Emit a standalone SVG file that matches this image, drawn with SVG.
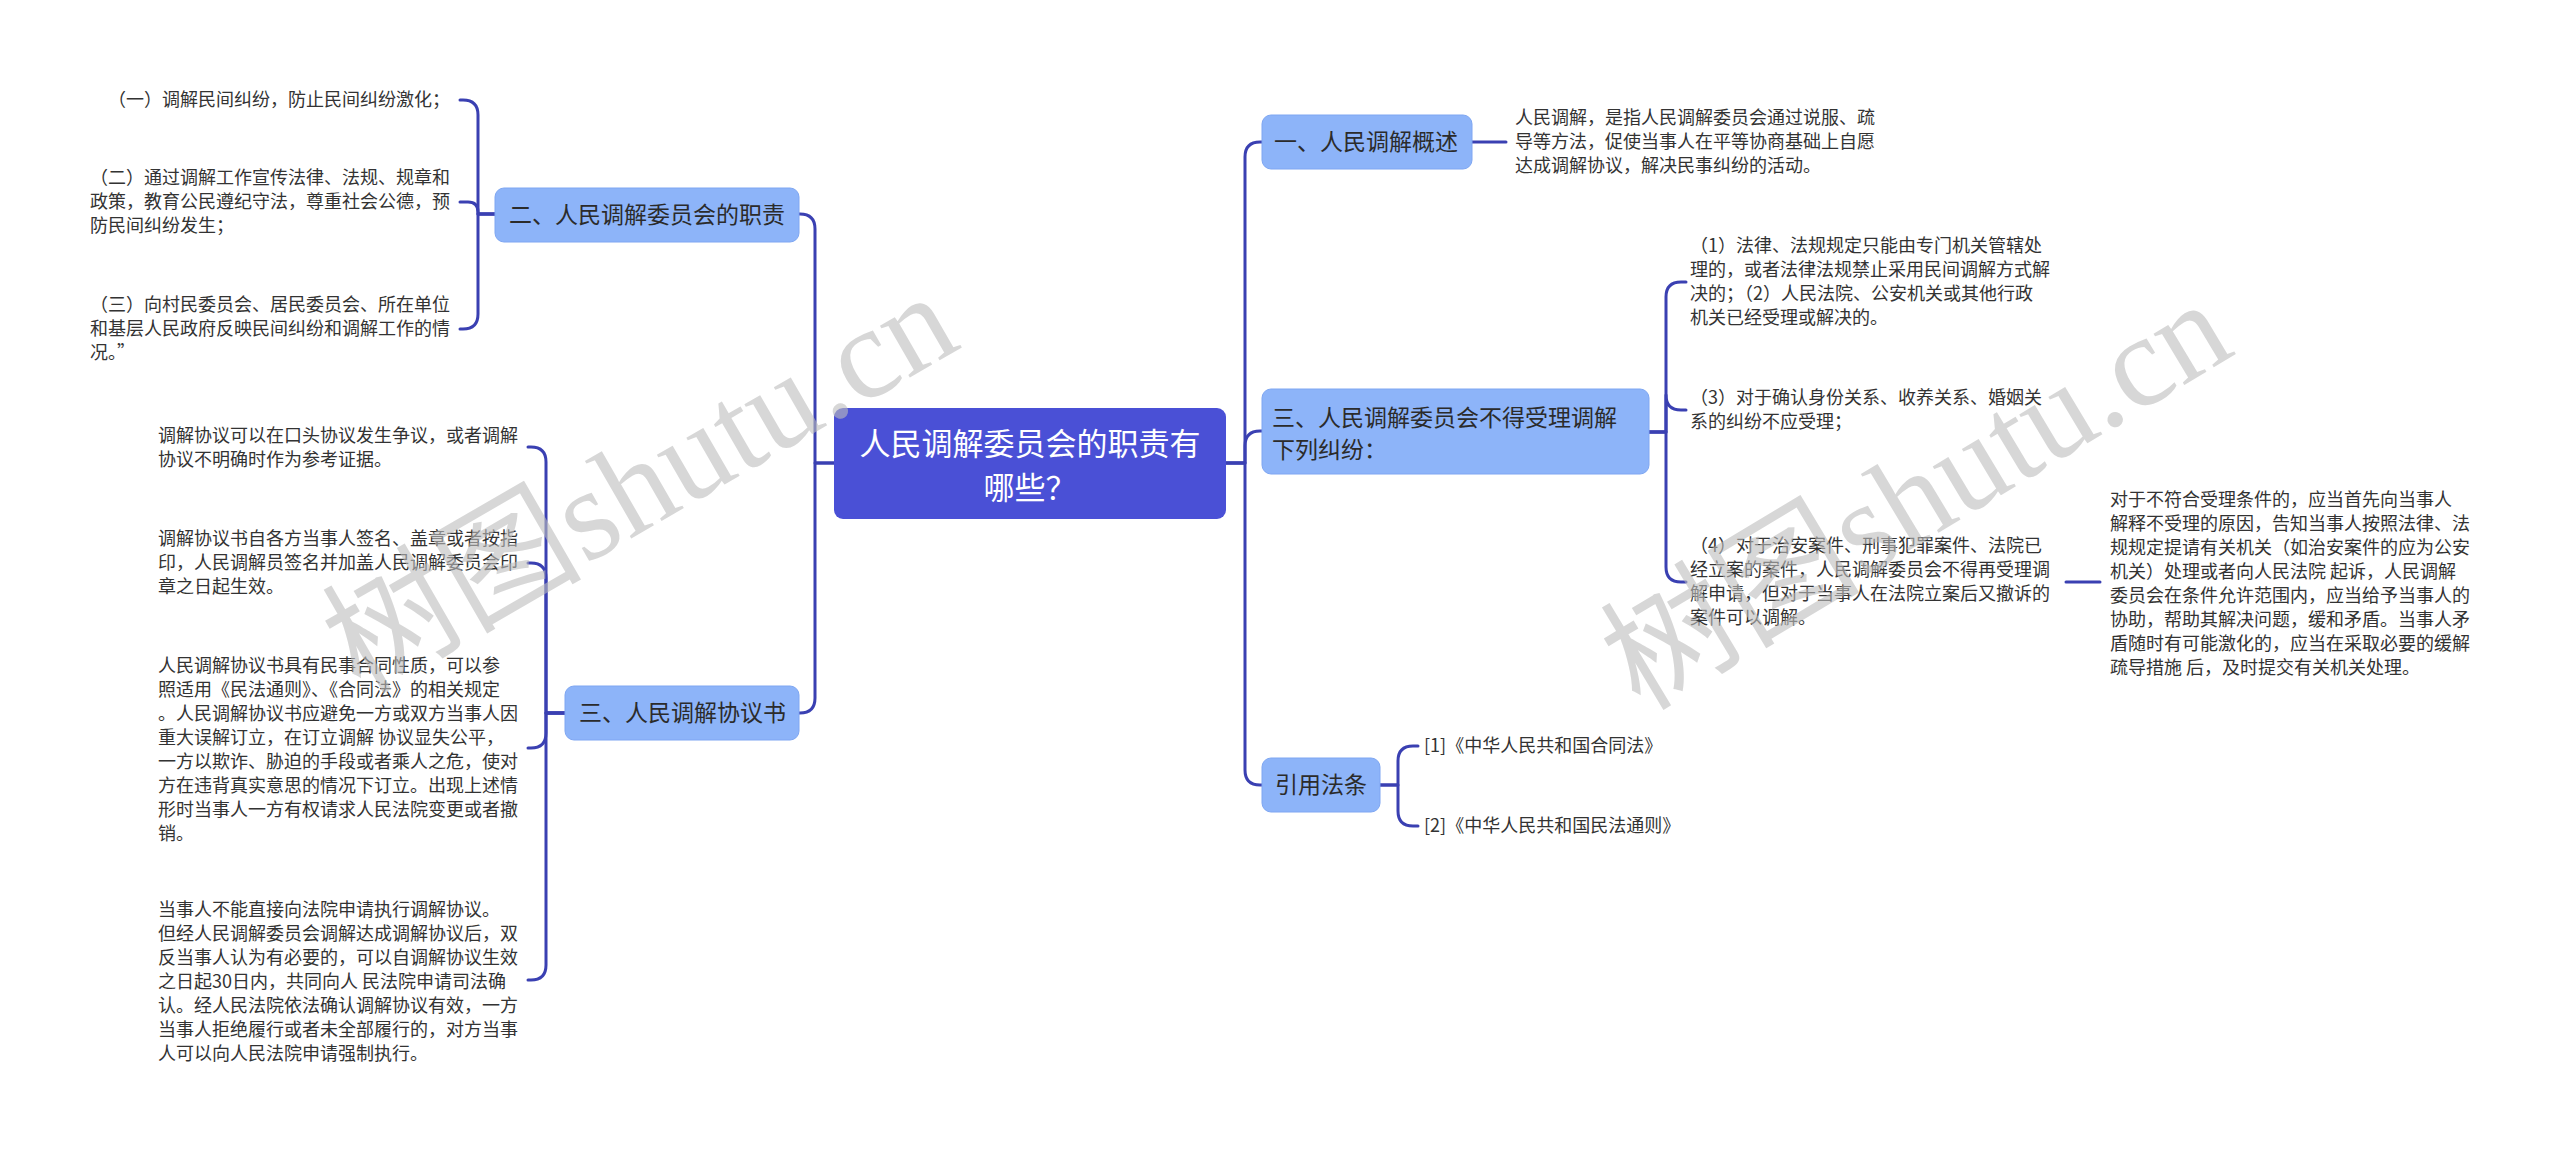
<svg xmlns="http://www.w3.org/2000/svg" width="2560" height="1150" viewBox="0 0 2560 1150">
<style>
.root{fill:#4a50d6;}
.rootT{font-family:"Noto Sans CJK SC","Liberation Sans",sans-serif;font-size:31px;fill:#ffffff;text-anchor:middle;}
.br{fill:#8db4f9;stroke:#7ea6f2;stroke-width:1;}
.brT{font-family:"Noto Sans CJK SC","Liberation Sans",sans-serif;font-size:23px;fill:#2b2b2b;}
.lf{font-family:"Noto Sans CJK SC","Liberation Sans",sans-serif;font-size:18px;fill:#333333;}
.ln{fill:none;stroke:#3a40b2;stroke-width:3;stroke-linecap:round;stroke-linejoin:round;}
.wm{font-family:"Liberation Serif","Noto Sans CJK SC",serif;font-size:130px;fill:#bdbdbd;opacity:0.6;}
</style>

<g id="connectors">
  <path class="ln" d="M834 463 H815 V229 Q815 214 800 214 H798"/>
  <path class="ln" d="M834 463 H815 V698 Q815 713 800 713 H799"/>
  <path class="ln" d="M1226 463 H1245 V157 Q1245 142 1260 142 H1262"/>
  <path class="ln" d="M1226 463 H1245 V446 Q1245 431 1260 431 H1262"/>
  <path class="ln" d="M1226 463 H1245 V770 Q1245 785 1260 785 H1262"/>
  <path class="ln" d="M1472 142 H1506"/>
  <path class="ln" d="M1649 432 H1666 V297 Q1666 282 1681 282 H1686"/>
  <path class="ln" d="M1649 432 H1666 V395 Q1666 410 1681 410 H1686"/>
  <path class="ln" d="M1649 432 H1666 V567 Q1666 582 1681 582 H1686"/>
  <path class="ln" d="M2066 582 H2100"/>
  <path class="ln" d="M1380 785 H1398 V761 Q1398 746 1413 746 H1418"/>
  <path class="ln" d="M1380 785 H1398 V811 Q1398 826 1413 826 H1418"/>
  <path class="ln" d="M495 214 H478 V115 Q478 100 463 100 H460"/>
  <path class="ln" d="M495 214 H478 V212 Q478 202 468 202 H460"/>
  <path class="ln" d="M495 214 H478 V314 Q478 329 463 329 H460"/>
  <path class="ln" d="M565 713 H546 V462 Q546 447 531 447 H528"/>
  <path class="ln" d="M565 713 H546 V578 Q546 563 531 563 H528"/>
  <path class="ln" d="M565 713 H546 V733 Q546 748 531 748 H528"/>
  <path class="ln" d="M565 713 H546 V965 Q546 980 531 980 H528"/>
</g>

<g id="root">
  <rect class="root" x="834" y="408" width="392" height="111" rx="9"/>
  <text class="rootT" x="1030" y="455">人民调解委员会的职责有</text>
  <text class="rootT" x="1030" y="499">哪些？</text>
</g>

<g id="b-left-2">
  <rect class="br" x="495" y="188" width="304" height="54" rx="9"/>
  <text class="brT" x="509" y="223">二、人民调解委员会的职责</text>
</g>
<g id="b-left-3">
  <rect class="br" x="565" y="686" width="234" height="54" rx="9"/>
  <text class="brT" x="579" y="721">三、人民调解协议书</text>
</g>
<g id="b-right-1">
  <rect class="br" x="1262" y="115" width="210" height="54" rx="9"/>
  <text class="brT" x="1274" y="150">一、人民调解概述</text>
</g>
<g id="b-right-3">
  <rect class="br" x="1262" y="389" width="387" height="85" rx="9"/>
  <text class="brT" x="1272" y="426">三、人民调解委员会不得受理调解</text>
  <text class="brT" x="1272" y="458">下列纠纷：</text>
</g>
<g id="b-right-4">
  <rect class="br" x="1262" y="758" width="118" height="54" rx="9"/>
  <text class="brT" x="1275" y="793">引用法条</text>
</g>

<g id="leaf-r1">
  <text class="lf" x="1515" y="124">人民调解，是指人民调解委员会通过说服、疏</text>
  <text class="lf" x="1515" y="148">导等方法，促使当事人在平等协商基础上自愿</text>
  <text class="lf" x="1515" y="172">达成调解协议，解决民事纠纷的活动。</text>
</g>
<g id="leaf-r3-1">
  <text class="lf" x="1690" y="252"> （1）法律、法规规定只能由专门机关管辖处</text>
  <text class="lf" x="1690" y="276">理的，或者法律法规禁止采用民间调解方式解</text>
  <text class="lf" x="1690" y="300">决的；（2）人民法院、公安机关或其他行政</text>
  <text class="lf" x="1690" y="324">机关已经受理或解决的。</text>
</g>
<g id="leaf-r3-2">
  <text class="lf" x="1690" y="404"> （3）对于确认身份关系、收养关系、婚姻关</text>
  <text class="lf" x="1690" y="428">系的纠纷不应受理；</text>
</g>
<g id="leaf-r3-3">
  <text class="lf" x="1690" y="552"> （4）对于治安案件、刑事犯罪案件、法院已</text>
  <text class="lf" x="1690" y="576">经立案的案件，人民调解委员会不得再受理调</text>
  <text class="lf" x="1690" y="600">解申请，但对于当事人在法院立案后又撤诉的</text>
  <text class="lf" x="1690" y="624">案件可以调解。</text>
</g>
<g id="leaf-r3-3-1">
  <text class="lf" x="2110" y="506"> 对于不符合受理条件的，应当首先向当事人</text>
  <text class="lf" x="2110" y="530">解释不受理的原因，告知当事人按照法律、法</text>
  <text class="lf" x="2110" y="554">规规定提请有关机关（如治安案件的应为公安</text>
  <text class="lf" x="2110" y="578">机关）处理或者向人民法院 起诉，人民调解</text>
  <text class="lf" x="2110" y="602">委员会在条件允许范围内，应当给予当事人的</text>
  <text class="lf" x="2110" y="626">协助，帮助其解决问题，缓和矛盾。当事人矛</text>
  <text class="lf" x="2110" y="650">盾随时有可能激化的，应当在采取必要的缓解</text>
  <text class="lf" x="2110" y="674">疏导措施 后，及时提交有关机关处理。</text>
</g>
<g id="leaf-r4-1">
  <text class="lf" x="1424" y="752">[1]《中华人民共和国合同法》</text>
</g>
<g id="leaf-r4-2">
  <text class="lf" x="1424" y="832">[2]《中华人民共和国民法通则》</text>
</g>

<g id="leaf-l2-1">
  <text class="lf" x="108" y="106">（一）调解民间纠纷，防止民间纠纷激化；</text>
</g>
<g id="leaf-l2-2">
  <text class="lf" x="90" y="184">（二）通过调解工作宣传法律、法规、规章和</text>
  <text class="lf" x="90" y="208">政策，教育公民遵纪守法，尊重社会公德，预</text>
  <text class="lf" x="90" y="232">防民间纠纷发生；</text>
</g>
<g id="leaf-l2-3">
  <text class="lf" x="90" y="311">（三）向村民委员会、居民委员会、所在单位</text>
  <text class="lf" x="90" y="335">和基层人民政府反映民间纠纷和调解工作的情</text>
  <text class="lf" x="90" y="359">况。”</text>
</g>
<g id="leaf-l3-1">
  <text class="lf" x="158" y="442">调解协议可以在口头协议发生争议，或者调解</text>
  <text class="lf" x="158" y="466">协议不明确时作为参考证据。</text>
</g>
<g id="leaf-l3-2">
  <text class="lf" x="158" y="545">调解协议书自各方当事人签名、盖章或者按指</text>
  <text class="lf" x="158" y="569">印，人民调解员签名并加盖人民调解委员会印</text>
  <text class="lf" x="158" y="593">章之日起生效。</text>
</g>
<g id="leaf-l3-3">
  <text class="lf" x="158" y="672"> 人民调解协议书具有民事合同性质，可以参</text>
  <text class="lf" x="158" y="696">照适用《民法通则》、《合同法》的相关规定</text>
  <text class="lf" x="158" y="720">。人民调解协议书应避免一方或双方当事人因</text>
  <text class="lf" x="158" y="744">重大误解订立，在订立调解 协议显失公平，</text>
  <text class="lf" x="158" y="768">一方以欺诈、胁迫的手段或者乘人之危，使对</text>
  <text class="lf" x="158" y="792">方在违背真实意思的情况下订立。出现上述情</text>
  <text class="lf" x="158" y="816">形时当事人一方有权请求人民法院变更或者撤</text>
  <text class="lf" x="158" y="840">销。</text>
</g>
<g id="leaf-l3-4">
  <text class="lf" x="158" y="916"> 当事人不能直接向法院申请执行调解协议。</text>
  <text class="lf" x="158" y="940">但经人民调解委员会调解达成调解协议后，双</text>
  <text class="lf" x="158" y="964">反当事人认为有必要的，可以自调解协议生效</text>
  <text class="lf" x="158" y="988">之日起30日内，共同向人 民法院申请司法确</text>
  <text class="lf" x="158" y="1012">认。经人民法院依法确认调解协议有效，一方</text>
  <text class="lf" x="158" y="1036">当事人拒绝履行或者未全部履行的，对方当事</text>
  <text class="lf" x="158" y="1060">人可以向人民法院申请强制执行。</text>
</g>

<g id="watermarks">
  <text class="wm" transform="translate(360,695) rotate(-30)">树图shutu.cn</text>
  <text class="wm" transform="translate(1640,712) rotate(-31)">树图shutu.cn</text>
</g>
</svg>
